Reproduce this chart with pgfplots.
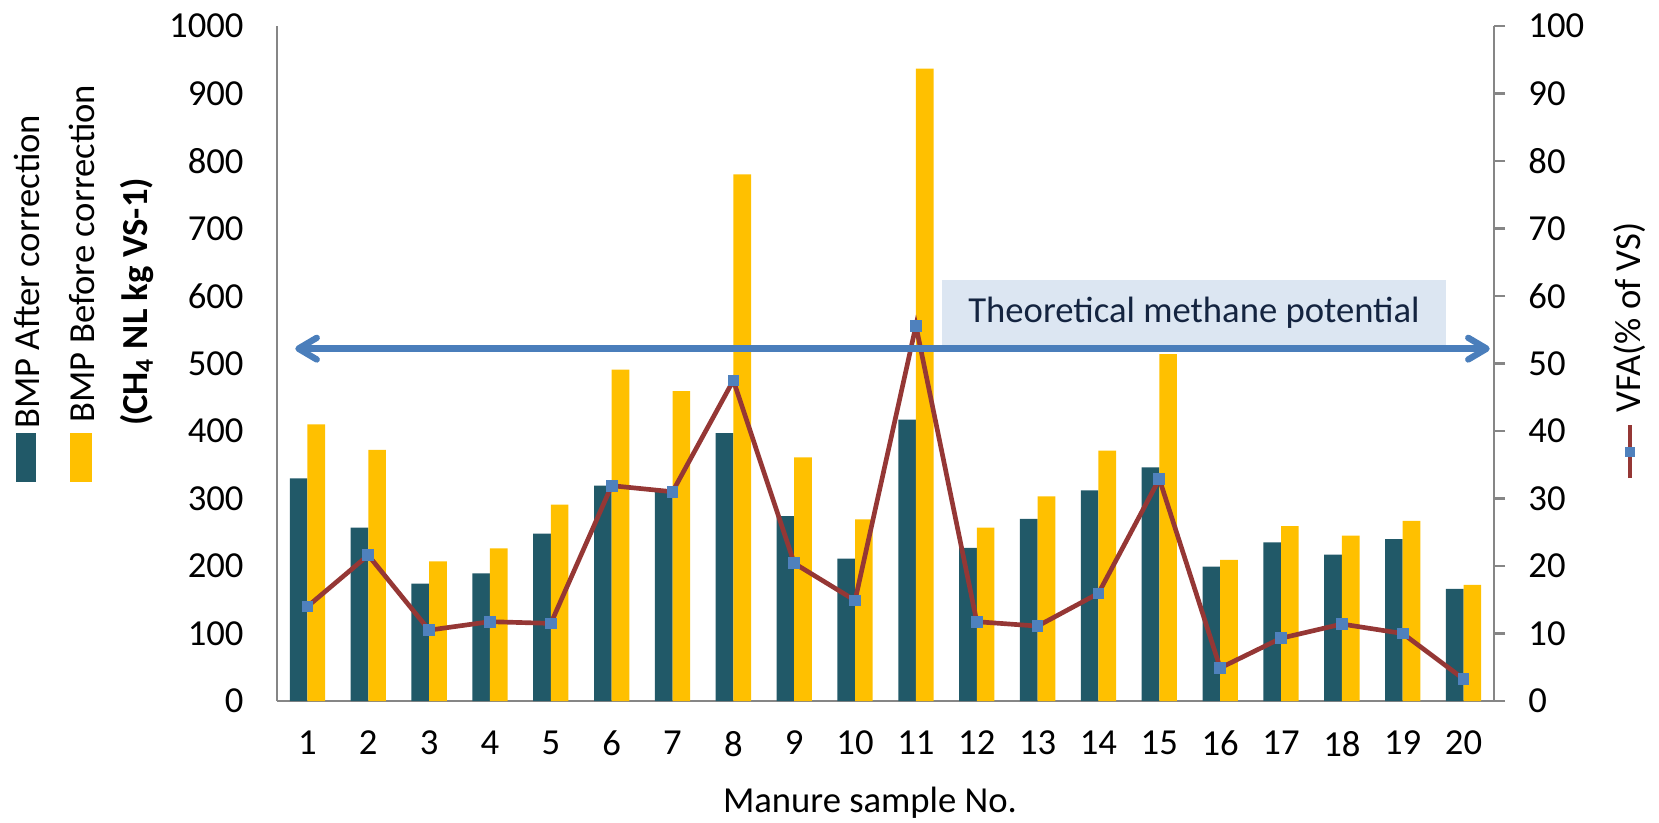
\documentclass[border=0pt]{standalone}
\usepackage{fontspec}
\setmainfont{Carlito}
\usepackage{pgfplots}
\pgfplotsset{compat=1.18}
\usetikzlibrary{arrows.meta}
\definecolor{barteal}{RGB}{33,89,104}
\definecolor{baryellow}{RGB}{255,192,0}
\definecolor{vfared}{RGB}{149,55,53}
\definecolor{markblue}{RGB}{79,129,189}
\definecolor{axisgray}{RGB}{134,134,134}
\definecolor{arrowblue}{RGB}{74,126,187}
\definecolor{boxblue}{RGB}{220,230,242}
\definecolor{boxtext}{RGB}{20,36,64}
\newcommand\fs{\fontsize{11}{13.2}\selectfont}
\begin{document}
\begin{tikzpicture}
\useasboundingbox (-83.1pt,-36.3pt) rectangle (414.6pt,210.3pt);
\begin{axis}[
  scale only axis, width=365.1pt, height=202.5pt,
  xmin=0.5, xmax=20.5, ymin=0, ymax=1000,
  axis x line*=bottom, axis y line*=left,
  axis line style={draw=axisgray, line width=0.7pt, -},
  xtick={1,...,20}, ytick={0,100,...,1000},
  major tick length=0pt,
  ybar=0pt, bar width=0.29,
  tick label style={font=\fs, text=black},
  /pgf/number format/assume math mode=true,
  /pgf/number format/1000 sep={},
  yticklabel style={xshift=-6.5pt},
  xticklabel style={yshift=-5.5pt},
]
\addplot[fill=barteal, draw=none] coordinates {
(1,330) (2,257) (3,174) (4,189) (5,248) (6,319) (7,310) (8,397) (9,274) (10,211)
(11,417) (12,227) (13,270) (14,312) (15,346) (16,199) (17,235) (18,217) (19,240) (20,166)};
\addplot[fill=baryellow, draw=none] coordinates {
(1,410) (2,372) (3,207) (4,226) (5,291) (6,491) (7,459) (8,780) (9,361) (10,269)
(11,937) (12,257) (13,303) (14,371) (15,514) (16,209) (17,259) (18,245) (19,267) (20,172)};
\end{axis}
\begin{axis}[
  scale only axis, width=365.1pt, height=202.5pt,
  xmin=0.5, xmax=20.5, ymin=0, ymax=100,
  axis x line=none, axis y line*=right,
  axis line style={draw=axisgray, line width=0.7pt, -},
  ytick={0,10,...,100},
  tick align=outside, major tick length=3.3pt,
  ytick style={draw=axisgray, line width=0.7pt},
  tick label style={font=\fs, text=black},
  /pgf/number format/assume math mode=true,
  yticklabel style={xshift=3.5pt},
  clip=false,
]
\fill[boxblue] (axis cs:11.43,52.7) rectangle (axis cs:19.71,62.4);
\node[font=\fs, text=boxtext] at (axis cs:15.57,57.55) {Theoretical methane potential};
\addplot[color=vfared, line width=1.4pt, mark=square*, mark size=1.6pt,
  mark options={fill=markblue, draw=markblue, line width=0pt}] coordinates {
(1,14.0) (2,21.6) (3,10.5) (4,11.75) (5,11.5) (6,31.9) (7,31.0) (8,47.5) (9,20.4) (10,14.9)
(11,55.6) (12,11.75) (13,11.1) (14,15.95) (15,32.9) (16,4.9) (17,9.3) (18,11.4) (19,10.0) (20,3.26)};
\draw[arrowblue, line width=1.9pt, {Straight Barb[length=5.5pt,width=6.5pt,round]}-{Straight Barb[length=5.5pt,width=6.5pt,round]}]
  (axis cs:0.80,52.2) -- (axis cs:20.43,52.2);
\end{axis}
% x label
\node[font=\fs] at (177.9pt,-30.6pt) {Manure sample No.};
% left axis title
\node[font=\fs\bfseries, rotate=90] at (-42pt,119.7pt) {(CH\textsubscript{4} NL kg VS-1)};
% left legend
\fill[barteal] (-78.3pt,65.7pt) rectangle (-72.3pt,80.4pt);
\node[font=\fs, rotate=90, anchor=west, inner sep=0pt] at (-75pt,81.5pt) {BMP After correction};
\fill[baryellow] (-62.1pt,65.7pt) rectangle (-55.5pt,80.4pt);
\node[font=\fs, rotate=90, anchor=west, inner sep=0pt] at (-58.5pt,83.4pt) {BMP Before correction};
% right legend
\draw[vfared, line width=1.4pt] (405.9pt,66.9pt) -- (405.9pt,82.8pt);
\fill[markblue] (404.3pt,73.1pt) rectangle (407.5pt,76.3pt);
\node[font=\fs, rotate=90, anchor=west, inner sep=0pt] at (405.9pt,86.4pt) {VFA(\% of VS)};
\end{tikzpicture}
\end{document}
